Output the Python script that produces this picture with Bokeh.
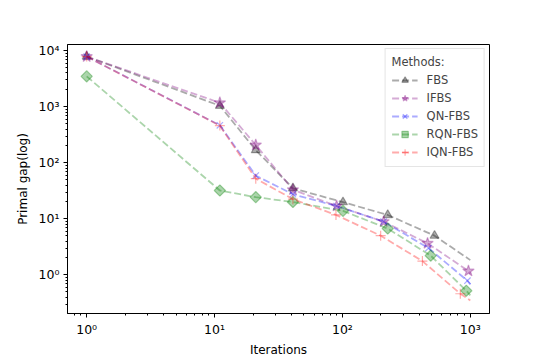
import numpy as np
from bokeh.plotting import figure
from bokeh.models import Legend, LegendItem, FixedTicker, Range1d, ColumnDataSource
from bokeh.embed import file_html
from bokeh.resources import INLINE

# ---- data ----
methods = ["FBS", "IFBS", "QN-FBS", "RQN-FBS", "IQN-FBS"]

fbs_iter = [1, 11, 21, 41, 101, 226, 525]
fbs_gap = [7850, 1040, 168, 35, 19.8, 11.7, 5.0]

ifbs_iter = [1, 11, 21, 41, 90, 210, 463, 967]
ifbs_gap = [7850, 1175, 207, 33, 16.9, 8.9, 3.65, 1.17]

qn_iter = [1, 11, 21, 41, 90, 210, 471, 949]
qn_gap = [7850, 465, 59, 27.4, 16.9, 8.9, 3.0, 0.785]

rqn_iter = [1, 11, 21, 41, 101, 226, 490, 930]
rqn_gap = [3480, 32, 24.3, 19.9, 13.8, 6.7, 2.2, 0.52]

iqn_iter = [1, 11, 21, 41, 89, 199, 422, 835]
iqn_gap = [7850, 460, 52, 22.4, 11.7, 5.0, 1.76, 0.46]

# final iteration value of each run (line end, no marker)
last_iter = 1000
last_gap = [1.83, 1.05, 0.67, 0.43, 0.35]

x_tick_vals = [1, 10, 100, 1000]
x_tick_labels = ["10⁰", "10¹", "10²", "10³"]
y_tick_vals = [1, 10, 100, 1000, 10000]
y_tick_labels = ["10⁰", "10¹", "10²", "10³", "10⁴"]

# ---- styles ----
colors = ["black", "purple", "blue", "green", "red"]
markers = ["triangle", "star", "x", "square", "cross"]
msizes = [9, 12, 9, 8, 10]
angles = [0, 0, 0, np.pi / 4, 0]

FONT = "DejaVu Sans"

p = figure(
    width=537, height=359,
    x_axis_type="log", y_axis_type="log",
    x_range=Range1d(10 ** -0.15, 10 ** 3.15),
    y_range=Range1d(10 ** -0.69, 10 ** 4.11),
    output_backend="svg", toolbar_location=None,
    min_border_left=67, min_border_right=48,
    min_border_top=44, min_border_bottom=41,
)
p.grid.visible = False
p.outline_line_color = "black"
p.outline_line_alpha = 1
p.outline_line_width = 1
p.background_fill_color = "white"
p.border_fill_color = "white"

def minor(lo, hi):
    out = []
    for d in range(lo, hi):
        for m in range(2, 10):
            out.append(m * 10.0 ** d)
    return out

p.xaxis.ticker = FixedTicker(ticks=x_tick_vals, minor_ticks=minor(-1, 4))
p.yaxis.ticker = FixedTicker(ticks=y_tick_vals, minor_ticks=minor(-1, 5))
p.xaxis.major_label_overrides = {v: l for v, l in zip(x_tick_vals, x_tick_labels)}
p.yaxis.major_label_overrides = {v: l for v, l in zip(y_tick_vals, y_tick_labels)}

for ax in (p.xaxis[0], p.yaxis[0]):
    ax.axis_line_color = "black"
    ax.major_tick_line_color = "black"
    ax.minor_tick_line_color = "black"
    ax.major_tick_out = 4
    ax.major_tick_in = 0
    ax.minor_tick_out = 2
    ax.minor_tick_in = 0
    ax.major_label_text_font = FONT
    ax.major_label_text_font_size = "12.5px"
    ax.major_label_text_color = "black"
    ax.axis_label_text_font = FONT
    ax.axis_label_text_font_size = "12px"
    ax.axis_label_text_font_style = "normal"
    ax.axis_label_text_color = "black"
    ax.major_label_standoff = 4

p.xaxis.axis_label = "Iterations"
p.yaxis.axis_label = "Primal gap(log)"
p.xaxis.axis_label_standoff = 3
p.yaxis.axis_label_standoff = 6

all_iters = [fbs_iter, ifbs_iter, qn_iter, rqn_iter, iqn_iter]
all_gaps = [fbs_gap, ifbs_gap, qn_gap, rqn_gap, iqn_gap]

ALPHA = 0.33
items = []
for name, it, gp, end, col, mk, ms, ang in zip(methods, all_iters, all_gaps, last_gap,
                                                 colors, markers, msizes, angles):
    lx = list(it) + [last_iter]
    ly = list(gp) + [end]
    lr = p.line(lx, ly, line_color=col, line_alpha=ALPHA, line_width=1.8, line_dash="7 3")
    src = ColumnDataSource(dict(x=it, y=gp, a=[ang] * len(it)))
    sr = p.scatter("x", "y", source=src, marker=mk, size=ms, angle="a",
                   fill_color=col, fill_alpha=ALPHA,
                   line_color=col, line_alpha=ALPHA, line_width=1.2)
    items.append(LegendItem(label=name, renderers=[lr, sr]))

legend = Legend(
    items=items, title="Methods:", location="top_right",
    margin=4, padding=6, spacing=2,
    label_height=16, glyph_height=16, glyph_width=26, label_standoff=9,
    label_text_font=FONT, label_text_font_size="11.5px",
    title_text_font=FONT, title_text_font_size="11.5px",
    title_text_font_style="normal", title_standoff=3,
    border_line_color="#cccccc", border_line_width=1,
    background_fill_color="white", background_fill_alpha=0.8,
)
p.add_layout(legend)

open("out.html", "w").write(file_html(p, INLINE))
